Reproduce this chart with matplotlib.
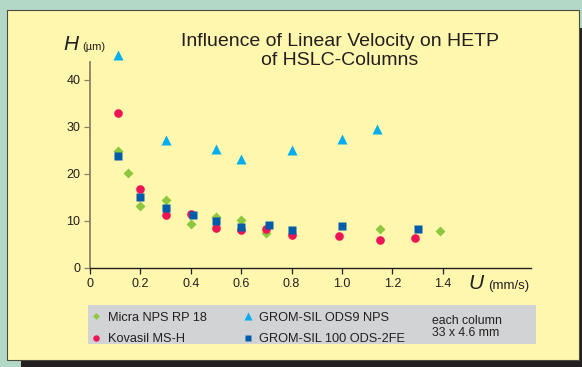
import matplotlib
matplotlib.use("Agg")
import matplotlib.pyplot as plt
from matplotlib.patches import Rectangle
from matplotlib.lines import Line2D

plt.rcParams['font.family'] = ['Liberation Sans', 'DejaVu Sans']

# HETP data, H in um against linear velocity U in mm/s
u_micra = [0.11, 0.15, 0.2, 0.3, 0.4, 0.5, 0.6, 0.7, 1.15, 1.39]
h_micra = [24.8, 20.2, 13.2, 14.4, 9.4, 10.8, 10.2, 7.4, 8.3, 7.9]

u_kovasil = [0.11, 0.2, 0.3, 0.4, 0.5, 0.6, 0.7, 0.8, 0.99, 1.15, 1.29]
h_kovasil = [33.0, 16.8, 11.3, 11.4, 8.6, 8.0, 8.2, 7.1, 6.7, 6.0, 6.4]

u_ods9 = [0.11, 0.3, 0.5, 0.6, 0.8, 1.0, 1.14]
h_ods9 = [45.2, 27.3, 25.2, 23.2, 25.1, 27.4, 29.5]

u_2fe = [0.11, 0.2, 0.3, 0.41, 0.5, 0.6, 0.71, 0.8, 1.0, 1.3]
h_2fe = [23.8, 15.2, 12.8, 11.2, 10.0, 8.8, 9.2, 8.0, 9.0, 8.3]

xticks = [0, 0.2, 0.4, 0.6, 0.8, 1.0, 1.2, 1.4]
yticks = [0, 10, 20, 30, 40]

W, H = 582, 367
ink = '#231f20'


def fx(x):
    return x / W


def fy(y):
    return 1 - y / H


fig = plt.figure(figsize=(W / 100, H / 100), dpi=100)
fig.patch.set_facecolor('#b4d8c7')

# drop shadow and yellow panel
fig.add_artist(Rectangle((fx(21), fy(380)), fx(600), fy(28) - fy(380), transform=fig.transFigure,
                         facecolor=ink, edgecolor='none', zorder=0))
fig.add_artist(Rectangle((fx(7), fy(360)), fx(572), fy(10) - fy(360), transform=fig.transFigure,
                         facecolor='#fff7ae', edgecolor='#4d4a3e', linewidth=0.8, zorder=0.5))

ax = fig.add_axes([fx(90), fy(268), fx(531 - 90), fy(62) - fy(268)])
ax.set_zorder(2)
ax.set_facecolor('none')

ax.plot(u_micra, h_micra, linestyle='none', marker='D', ms=4.6, color='#8dc63f',
        mec='none', label='Micra NPS RP 18')
ax.plot(u_kovasil, h_kovasil, linestyle='none', marker='o', ms=6.2, color='#ed1556',
        mec='none', label='Kovasil MS-H')
ax.plot(u_ods9, h_ods9, linestyle='none', marker='^', ms=7, color='#00aeef',
        mec='none', label='GROM-SIL ODS9 NPS', clip_on=False)
ax.plot(u_2fe, h_2fe, linestyle='none', marker='s', ms=6, color='#005baa',
        mec='none', label='GROM-SIL 100 ODS-2FE')

ax.set_xlim(0, 1.75)
ax.set_ylim(0, 43.8)
ax.set_xticks(xticks)
ax.set_xticklabels(['0', '0.2', '0.4', '0.6', '0.8', '1.0', '1.2', '1.4'])
ax.set_yticks(yticks)
ax.tick_params(axis='both', labelsize=9, colors=ink, length=4, width=0.9, pad=3)
ax.tick_params(axis='y', color='#8c8163')

for s in ['top', 'right']:
    ax.spines[s].set_visible(False)
ax.spines['left'].set_color('#8c8163')
ax.spines['left'].set_linewidth(1.3)
ax.spines['bottom'].set_color(ink)
ax.spines['bottom'].set_linewidth(1.0)

# title and axis names
fig.text(fx(340), fy(33), 'Influence of Linear Velocity on HETP\nof HSLC-Columns',
         ha='center', va='top', multialignment='center', fontsize=14, color=ink,
         linespacing=1.15)
fig.text(fx(63), fy(50), 'H', style='italic', fontsize=15, color=ink, va='baseline')
fig.text(fx(82), fy(50), '(\u00b5m)', fontsize=8, color=ink, va='baseline')
fig.text(fx(468), fy(289), 'U', style='italic', fontsize=15, color=ink, va='baseline')
fig.text(fx(488), fy(289), '(mm/s)', fontsize=9.5, color=ink, va='baseline')

# legend on grey strip
fig.add_artist(Rectangle((fx(88), fy(344)), fx(536 - 88), fy(305) - fy(344),
                         transform=fig.transFigure, facecolor='#d1d3d4',
                         edgecolor='none', zorder=0.8))
handles, labels = ax.get_legend_handles_labels()
small = []
for h in handles:
    small.append(Line2D([], [], linestyle='none', marker=h.get_marker(),
                        color=h.get_color(), mec='none', ms=h.get_markersize() * 0.75))
leg = fig.legend(small, labels, ncol=2, loc='upper left',
                 bbox_to_anchor=(fx(90), fy(309)), frameon=False, fontsize=9.2,
                 handlelength=0.6, handletextpad=0.6, columnspacing=2.9,
                 labelspacing=0.75, borderpad=0.2, borderaxespad=0)
for t in leg.get_texts():
    t.set_color(ink)
fig.text(fx(432), fy(327), 'each column\n33 x 4.6 mm', fontsize=8.8, color=ink,
         va='center', ha='left', linespacing=0.95)

fig.savefig('out.png', dpi=100, facecolor=fig.get_facecolor())
